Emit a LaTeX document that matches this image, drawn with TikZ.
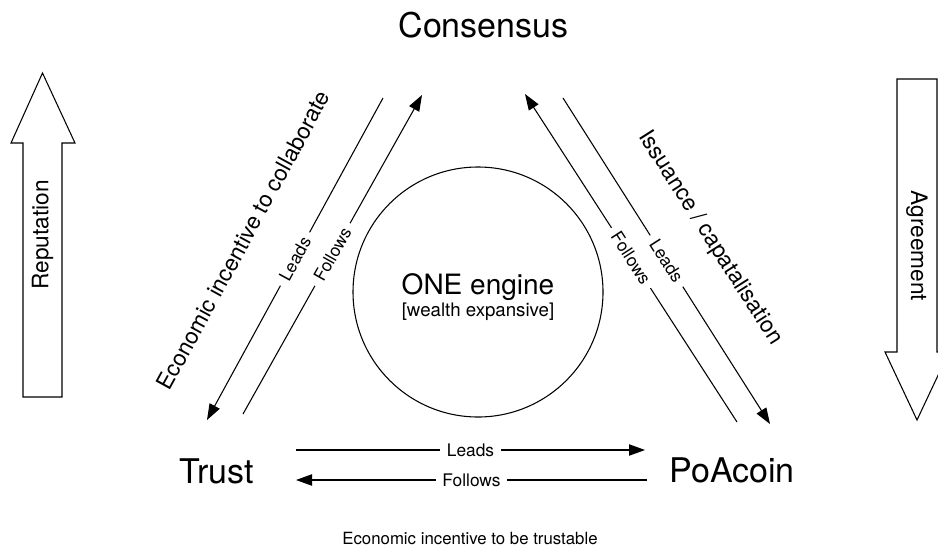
\documentclass[tikz,border=0pt]{standalone}
\usepackage{fontspec}
\setmainfont{TeX Gyre Heros}
\usetikzlibrary{arrows.meta}
\tikzstyle{pole} = [
    font=\fontsize{25.5}{30}\selectfont,
    inner sep=0pt,
    anchor=base
]
\tikzstyle{theme} = [
    font=\fontsize{17}{20}\selectfont,
    inner sep=0pt
]
\tikzstyle{tag} = [
    font=\fontsize{13}{15}\selectfont,
    fill=white,
    inner xsep=5pt,
    inner ysep=1pt,
    midway,
    sloped
]
\tikzstyle{flow} = [
    line width=0.8pt,
    -{Triangle[length=12pt,width=8.5pt]}
]
\tikzstyle{engine} = [
    circle,
    draw,
    line width=0.8pt,
    minimum size=187.5pt
]
\tikzstyle{bigarrow} = [
    draw,
    line width=0.8pt,
    line join=miter
]

\begin{document}
\begin{tikzpicture}[x=0.75pt, y=-0.75pt]
        \useasboundingbox (0,0) rectangle (938,550);

        \node[pole] (consensus) at (483.5,37) {Consensus};
        \node[pole] (trust) at (216.5,483) {Trust};
        \node[pole] (poa) at (732,482) {PoAcoin};
        \node[engine] (engine) at (478,292) {};
        \node[align=center, font=\fontsize{14}{17}\selectfont] (wealth) at (478,297) {{\fontsize{21}{21}\selectfont ONE engine}\\{[wealth expansive]}};

        \coordinate (ct1) at (383,98);
        \coordinate (tc1) at (207,420);
        \coordinate (tc2) at (243,414);
        \coordinate (ct2) at (422,95);
        \coordinate (pc1) at (737,422);
        \coordinate (cp1) at (525,94);
        \coordinate (cp2) at (563,98);
        \coordinate (pc2) at (770,424);
        \coordinate (tp1) at (296,450);
        \coordinate (pt1) at (645,450);
        \coordinate (pt2) at (647,480);
        \coordinate (tp2) at (296,480);

        \draw[flow] (ct1) -- node[tag] {Leads} (tc1);
        \draw[flow] (tc2) -- node[tag] {Follows} (ct2);
        \draw[flow] (pc1) -- node[tag] {Follows} (cp1);
        \draw[flow] (cp2) -- node[tag] {Leads} (pc2);
        \draw[flow] (tp1) -- node[tag] {Leads} (pt1);
        \draw[flow] (pt2) -- node[tag] {Follows} (tp2);

        \node[theme, rotate=61.3] (collaborate) at (243,240) {Economic incentive to collaborate};
        \node[theme, rotate=-57.5] (issuance) at (710,238) {Issuance / capatalisation};
        \node[font=\fontsize{12.6}{15}\selectfont, anchor=base] (trustable) at (470,544) {Economic incentive to be trustable};

        \draw[bigarrow] (23,397) -- (23,143) -- (11,143) -- (42.5,73) -- (75,143) -- (62,143) -- (62,397) -- cycle;
        \node[theme, rotate=90] (reputation) at (42.5,235) {Reputation};
        \draw[bigarrow] (897,79) -- (897,352) -- (885,352) -- (917,420) -- (949,352) -- (937,352) -- (937,79) -- cycle;
        \node[theme, rotate=-90] (agreement) at (917,246) {Agreement};
    \end{tikzpicture}
\end{document}
